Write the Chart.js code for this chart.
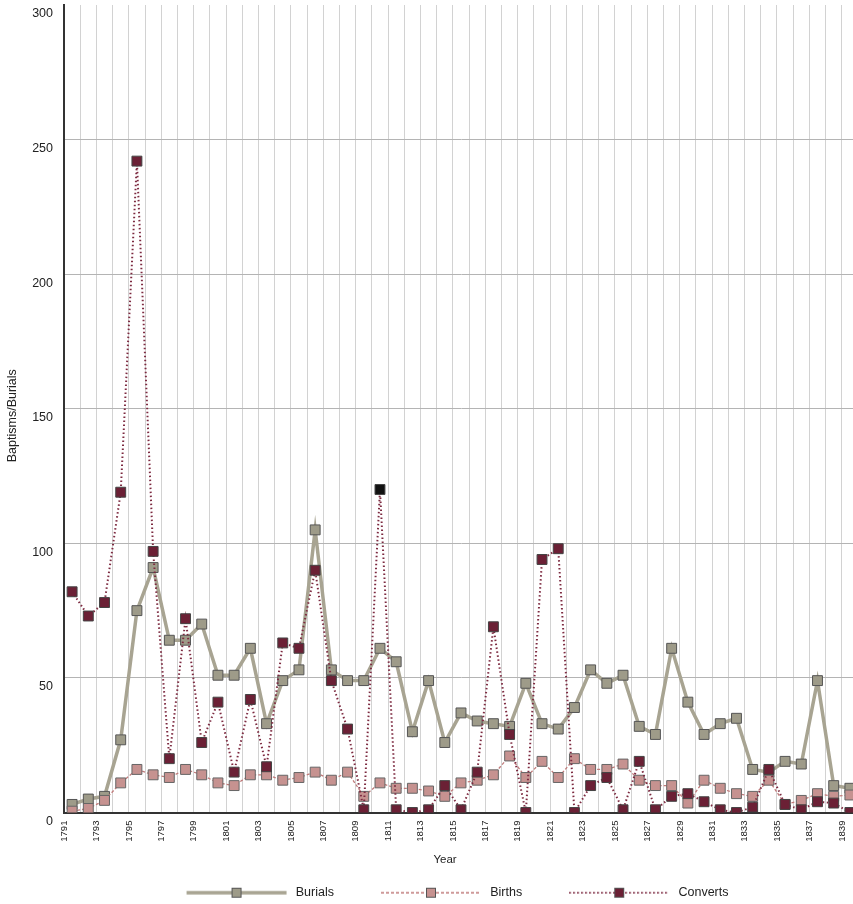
<!DOCTYPE html>
<html lang="en">
<head>
  <meta charset="UTF-8">
  <title>Baptisms and Burials 1791-1839</title>
  <script src="https://cdn.jsdelivr.net/npm/chart.js"></script>
  <style>
    html, body { margin: 0; padding: 0; background: #fff; overflow: hidden; }
    #wrap { width: 858px; height: 909px; }
  </style>
</head>
<body>
  <div id="wrap"><canvas id="chart"></canvas></div>

  <script>
    const years = ['1791','1792','1793','1794','1795','1796','1797','1798','1799','1800',
                   '1801','1802','1803','1804','1805','1806','1807','1808','1809','1810',
                   '1811','1812','1813','1814','1815','1816','1817','1818','1819','1820',
                   '1821','1822','1823','1824','1825','1826','1827','1828','1829','1830',
                   '1831','1832','1833','1834','1835','1836','1837','1838','1839'];

    const burials = [3, 5, 6, 27, 75, 91, 64, 64, 70, 51,
                     51, 61, 33, 49, 53, 105, 53, 49, 49, 61,
                     56, 30, 49, 26, 37, 34, 33, 32, 48, 33,
                     31, 39, 53, 48, 51, 32, 29, 61, 41, 29,
                     33, 35, 16, 15, 19, 18, 49, 10, 9];

    const births = [0.5, 1.5, 4.5, 11, 16, 14, 13, 16, 14, 11,
                    10, 14, 14, 12, 13, 15, 12, 15, 6, 11,
                    9, 9, 8, 6, 11, 12, 14, 21, 13, 19,
                    13, 20, 16, 16, 18, 12, 10, 10, 3.5, 12,
                    9, 7, 6, 12, 3, 4.5, 7, 6, 6.5];

    const converts = [82, 73, 78, 119, 242, 97, 20, 72, 26, 41,
                      15, 42, 17, 63, 61, 90, 49, 31, 1, 120,
                      1, 0, 1, 10, 1, 15, 69, 29, 0, 94,
                      98, 0, 10, 13, 1, 19, 1, 6, 7, 4,
                      1, 0, 2, 16, 3, 1, 4, 3.5, 0];

    const yTicks = [0, 50, 100, 150, 200, 250, 300];

    // the 1810 converts marker is drawn black in the original
    const blackIdx = years.indexOf('1810');

    Chart.defaults.font.family = "'Liberation Sans', Arial, sans-serif";
    Chart.defaults.color = '#222';

    // legend sample: blank lead-in, then a line with the marker in the middle
    function legendSample(lineColor, lineWidth, dash, fill) {
      const c = document.createElement('canvas');
      c.width = 150; c.height = 14;
      const g = c.getContext('2d');
      g.strokeStyle = lineColor;
      g.lineWidth = lineWidth;
      g.setLineDash(dash);
      g.beginPath(); g.moveTo(47, 7); g.lineTo(147, 7); g.stroke();
      g.setLineDash([]);
      g.fillStyle = fill;
      g.fillRect(92, 2, 10, 10);
      g.strokeStyle = '#555'; g.lineWidth = 1;
      g.strokeRect(92.5, 2.5, 9, 9);
      return c;
    }

    const samples = [
      legendSample('#a8a492', 3.5, [], '#9e9b89'),
      legendSample('#c07a7a', 1.3, [3, 2], '#c69290'),
      legendSample('#7d2a40', 2, [1.5, 2.5], '#6b2035')
    ];

    // nudge the legend row a little to the right, as in the original
    const legendShift = {
      id: 'legendShift',
      afterLayout(chart) {
        chart.legend.left += 5;
        chart.legend.right += 5;
      }
    };

    const ctx = document.getElementById('chart').getContext('2d');

    new Chart(ctx, {
      type: 'line',
      data: {
        labels: years,
        datasets: [{
          label: 'Burials',
          data: burials,
          borderColor: '#a8a492',
          borderWidth: 3.5,
          pointStyle: 'rect',
          pointRadius: 7,
          pointBackgroundColor: '#9e9b89',
          pointBorderColor: '#555',
          pointBorderWidth: 1,
          order: 3
        }, {
          label: 'Births',
          data: births,
          borderColor: '#c07a7a',
          borderWidth: 1.3,
          borderDash: [3, 2],
          pointStyle: 'rect',
          pointRadius: 7,
          pointBackgroundColor: '#c69290',
          pointBorderColor: '#666',
          pointBorderWidth: 1,
          order: 2
        }, {
          label: 'Converts',
          data: converts,
          borderColor: '#7d2a40',
          borderWidth: 2,
          borderDash: [1.5, 2.5],
          pointStyle: 'rect',
          pointRadius: 7,
          pointBackgroundColor: c => c.dataIndex === blackIdx ? '#111' : '#6b2035',
          pointBorderColor: '#444',
          pointBorderWidth: 1,
          order: 1
        }]
      },
      plugins: [legendShift],
      options: {
        responsive: true,
        maintainAspectRatio: false,
        animation: false,
        layout: { autoPadding: false, padding: { top: 5, left: 0, right: 0, bottom: 0 } },
        plugins: {
          tooltip: { enabled: false },
          legend: {
            position: 'bottom',
            labels: {
              usePointStyle: true,
              pointStyleWidth: 150,
              padding: 0,
              font: { size: 12.5 },
              color: '#222',
              sort: (a, b) => a.datasetIndex - b.datasetIndex,
              generateLabels: chart => {
                const items = Chart.defaults.plugins.legend.labels.generateLabels(chart);
                items.forEach(it => { it.pointStyle = samples[it.datasetIndex]; });
                return items;
              }
            }
          }
        },
        scales: {
          x: {
            offset: true,
            grid: { offset: true, color: '#d2d2d2', drawTicks: false },
            border: { color: '#333', width: 2 },
            // fixed height, and no extra room kept for the end labels
            afterFit: s => { s.height = 74; s.paddingLeft = 0; s.paddingRight = 0; },
            ticks: {
              autoSkip: false,
              minRotation: 90,
              maxRotation: 90,
              labelOffset: -8,
              padding: 8,
              font: { size: 9.6 },
              color: '#222',
              callback: function (v, i) { return i % 2 === 0 ? this.getLabelForValue(v) : ''; }
            },
            title: {
              display: true,
              // trailing spaces move the word a little left of the axis centre, as in the original
              text: 'Year\u00a0\u00a0\u00a0\u00a0\u00a0\u00a0\u00a0\u00a0\u00a0\u00a0',
              font: { size: 11.5 },
              color: '#222',
              padding: { top: 4, bottom: 20 }
            }
          },
          y: {
            min: 0,
            max: 300,
            afterFit: s => { s.width = 64; s.paddingTop = 0; s.paddingBottom = 0; },
            afterBuildTicks: s => { s.ticks = yTicks.map(v => ({ value: v })); },
            grid: {
              color: c => c.tick && c.tick.value === 300 ? 'rgba(0,0,0,0)' : '#b4b4b4',
              drawTicks: false
            },
            border: { color: '#333', width: 2 },
            ticks: {
              padding: 11,
              labelOffset: 9,
              font: { size: 12.5 },
              color: '#222'
            },
            title: {
              display: true,
              // trailing spaces push the label a bit below the axis centre, as in the original
              text: 'Baptisms/Burials\u00a0\u00a0\u00a0\u00a0',
              font: { size: 12.5 },
              color: '#222',
              padding: { top: 5, bottom: 4 }
            }
          }
        }
      }
    });
  </script>
</body>
</html>
